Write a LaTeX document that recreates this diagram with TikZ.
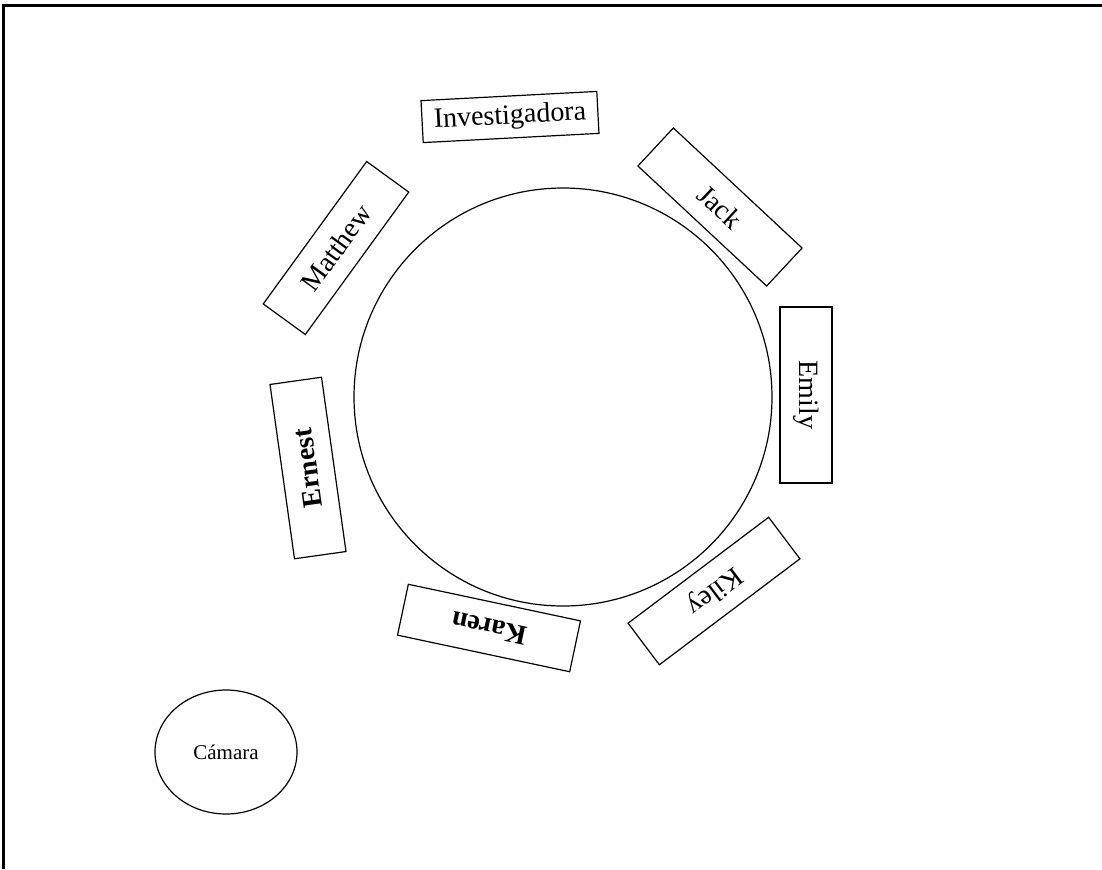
\documentclass[tikz,border=0pt]{standalone}
\usepackage{fontspec}
\setmainfont{Liberation Serif}
\usetikzlibrary{positioning, shapes.geometric}

\begin{document}
\begin{tikzpicture}[
  x=0.5pt, y=-0.5pt,
  seat/.style={draw, line width=0.6pt, inner sep=0pt,
               minimum width=88pt, minimum height=26pt,
               font=\fontsize{14}{16}\selectfont},
  boldseat/.style={seat, font=\fontsize{14}{16}\selectfont\bfseries},
  mesa/.style={draw, circle, line width=0.6pt, minimum size=209pt, inner sep=0pt},
]
  \useasboundingbox (0,0) rectangle (1102,869);
  % frame
  \draw[line width=1.5pt] (3,869) -- (3,5) -- (1102,5);

  \node[mesa] (table) at (563,397) {};

  \node[seat, minimum width=88pt, minimum height=21pt, rotate=3]
    (inv) at (510,117) {Investigadora};
  \node[seat, rotate=-43] (jack) at (720,207) {Jack};
  \node[seat, rotate=-90] (emily) at (806,395) {Emily};
  \node[seat, rotate=217] (kiley) at (714,591) {Kiley};
  \node[boldseat, rotate=168] (karen) at (489,628) {Karen};
  \node[boldseat, rotate=98] (ernest) at (308,468) {Ernest};
  \node[seat, rotate=54] (matthew) at (336,248) {Matthew};

  % camera
  \node[draw, ellipse, line width=0.6pt, minimum width=71pt, minimum height=62pt,
        font=\fontsize{10.5}{12}\selectfont] (cam) at (226,752) {Cámara};
\end{tikzpicture}
\end{document}
